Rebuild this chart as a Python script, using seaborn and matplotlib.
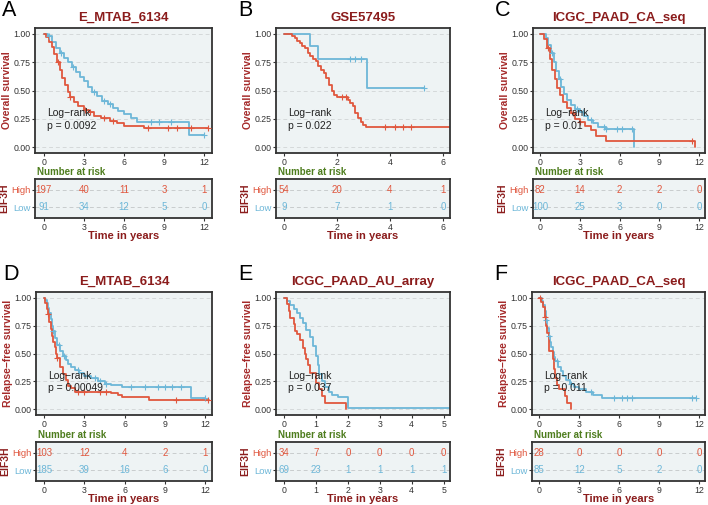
import numpy as np
import pandas as pd
import matplotlib
matplotlib.use("Agg")
import matplotlib.pyplot as plt
import seaborn as sns

sns.set_theme(style="ticks")
plt.rcParams['font.family'] = ['Liberation Sans', 'DejaVu Sans']

HIGH_COL = '#E0573E'
LOW_COL = '#6DB7D8'
DARK_RED = '#8B1C1C'
GREEN = '#4E7D1E'
PANEL_BG = '#EEF3F4'

# ---- Panel A: E_MTAB_6134, overall survival
a_high_t = [0, 0.2, 0.4, 0.6, 0.8, 1.0, 1.2, 1.4, 1.6, 1.8, 2.0, 2.3, 2.6, 3.0, 3.4, 3.8, 4.3, 5.0, 5.5, 6.0, 7.5, 12.3]
a_high_s = [1.0, 0.97, 0.93, 0.88, 0.82, 0.75, 0.68, 0.61, 0.55, 0.49, 0.44, 0.40, 0.36, 0.33, 0.31, 0.28, 0.26, 0.23, 0.21, 0.19, 0.17, 0.17]
a_low_t = [0, 0.3, 0.6, 0.9, 1.2, 1.5, 1.8, 2.1, 2.4, 2.7, 3.0, 3.3, 3.6, 4.0, 4.4, 4.8, 5.2, 5.6, 6.0, 6.5, 7.0, 10.9, 12.0]
a_low_s = [1.0, 0.98, 0.93, 0.87, 0.83, 0.79, 0.75, 0.71, 0.66, 0.62, 0.58, 0.53, 0.49, 0.45, 0.41, 0.38, 0.35, 0.32, 0.29, 0.26, 0.22, 0.11, 0.11]
a_high_cens = [1.1, 2.0, 3.1, 3.5, 4.5, 5.2, 7.8, 9.3, 10.0, 11.0, 12.3]
a_low_cens = [0.4, 1.3, 2.2, 3.8, 4.5, 5.0, 8.0, 8.6, 9.5, 12.0]
a_risk_t = [0, 3, 6, 9, 12]
a_risk_high = [197, 40, 11, 3, 1]
a_risk_low = [91, 34, 12, 5, 0]

# ---- Panel B: GSE57495, overall survival
b_high_t = [0, 0.3, 0.4, 0.5, 0.6, 0.7, 0.8, 0.9, 1.0, 1.1, 1.2, 1.3, 1.4, 1.5, 1.6, 1.7, 1.8, 1.9, 2.0, 2.4, 2.5, 2.6, 2.7, 2.8, 2.9, 3.0, 3.1, 6.3]
b_high_s = [1.0, 0.98, 0.96, 0.94, 0.92, 0.89, 0.87, 0.83, 0.80, 0.78, 0.76, 0.72, 0.68, 0.65, 0.61, 0.55, 0.50, 0.46, 0.44, 0.42, 0.39, 0.36, 0.30, 0.26, 0.22, 0.20, 0.18, 0.18]
b_low_t = [0, 1.0, 1.3, 3.15, 5.3]
b_low_s = [1.0, 0.89, 0.78, 0.52, 0.52]
b_high_cens = [2.2, 2.35, 3.8, 4.2, 4.5, 4.8]
b_low_cens = [2.5, 2.7, 2.9, 5.3]
b_risk_t = [0, 2, 4, 6]
b_risk_high = [54, 20, 4, 1]
b_risk_low = [9, 7, 1, 0]

# ---- Panel C: ICGC_PAAD_CA_seq, overall survival
c_high_t = [0, 0.3, 0.5, 0.7, 0.9, 1.1, 1.3, 1.5, 1.7, 2.0, 2.3, 2.6, 3.0, 3.4, 3.8, 4.2, 5.0, 11.7]
c_high_s = [1.0, 0.95, 0.87, 0.78, 0.68, 0.60, 0.52, 0.46, 0.40, 0.35, 0.30, 0.25, 0.22, 0.19, 0.15, 0.10, 0.06, 0.0]
c_low_t = [0, 0.4, 0.6, 0.8, 1.0, 1.2, 1.4, 1.6, 1.8, 2.0, 2.3, 2.6, 3.0, 3.3, 3.6, 4.0, 4.4, 5.0, 7.05]
c_low_s = [1.0, 0.96, 0.90, 0.83, 0.75, 0.67, 0.60, 0.53, 0.47, 0.42, 0.37, 0.34, 0.31, 0.28, 0.24, 0.21, 0.18, 0.16, 0.0]
c_high_cens = [0.6, 2.5, 3.0, 11.5]
c_low_cens = [0.9, 1.5, 2.8, 3.2, 3.8, 4.8, 5.0, 5.8, 6.2, 6.9]
c_risk_t = [0, 3, 6, 9, 12]
c_risk_high = [82, 14, 2, 2, 0]
c_risk_low = [100, 25, 3, 0, 0]

# ---- Panel D: E_MTAB_6134, relapse-free survival
d_high_t = [0, 0.1, 0.2, 0.3, 0.4, 0.5, 0.6, 0.7, 0.8, 0.9, 1.0, 1.2, 1.4, 1.6, 1.8, 2.0, 2.3, 5.0, 5.5, 5.8, 7.8, 12.3]
d_high_s = [1.0, 0.95, 0.90, 0.85, 0.78, 0.72, 0.66, 0.60, 0.56, 0.50, 0.46, 0.38, 0.32, 0.26, 0.21, 0.19, 0.16, 0.15, 0.13, 0.11, 0.08, 0.08]
d_low_t = [0, 0.1, 0.2, 0.3, 0.4, 0.5, 0.6, 0.7, 0.8, 1.0, 1.2, 1.4, 1.6, 1.8, 2.0, 2.3, 2.6, 3.0, 3.5, 4.0, 4.5, 5.0, 5.8, 10.9, 12.0]
d_low_s = [1.0, 0.98, 0.95, 0.91, 0.86, 0.81, 0.75, 0.70, 0.64, 0.58, 0.52, 0.48, 0.44, 0.41, 0.38, 0.35, 0.33, 0.30, 0.28, 0.25, 0.23, 0.22, 0.20, 0.10, 0.10]
d_high_cens = [0.3, 1.0, 2.5, 3.0, 4.2, 4.6, 9.8, 12.2]
d_low_cens = [0.7, 1.1, 1.5, 2.5, 3.2, 3.8, 4.2, 4.6, 6.5, 7.5, 8.5, 9.0, 9.5, 10.2, 12.0]
d_risk_t = [0, 3, 6, 9, 12]
d_risk_high = [103, 12, 4, 2, 1]
d_risk_low = [185, 39, 16, 6, 0]

# ---- Panel E: ICGC_PAAD_AU_array, relapse-free survival
e_high_t = [0, 0.1, 0.15, 0.2, 0.3, 0.35, 0.4, 0.5, 0.6, 0.65, 0.7, 0.75, 0.8, 1.0, 1.1, 1.2, 1.3, 1.93]
e_high_s = [1.0, 0.94, 0.88, 0.82, 0.76, 0.70, 0.67, 0.62, 0.55, 0.50, 0.45, 0.40, 0.33, 0.24, 0.18, 0.12, 0.06, 0.0]
e_low_t = [0, 0.1, 0.2, 0.3, 0.4, 0.5, 0.6, 0.7, 0.8, 0.9, 1.0, 1.05, 1.1, 1.2, 1.3, 1.4, 1.5, 1.7, 2.0, 5.2]
e_low_s = [1.0, 0.97, 0.93, 0.90, 0.86, 0.82, 0.77, 0.71, 0.65, 0.57, 0.48, 0.40, 0.32, 0.25, 0.20, 0.16, 0.13, 0.11, 0.015, 0.015]
e_high_cens = []
e_low_cens = []
e_risk_t = [0, 1, 2, 3, 4, 5]
e_risk_high = [34, 7, 0, 0, 0, 0]
e_risk_low = [69, 23, 1, 1, 1, 1]

# ---- Panel F: ICGC_PAAD_CA_seq, relapse-free survival
f_high_t = [0, 0.1, 0.3, 0.4, 0.5, 0.6, 0.75, 1.0, 1.1, 1.2, 1.35, 1.5, 1.9, 2.1, 2.35]
f_high_s = [1.0, 0.96, 0.92, 0.83, 0.75, 0.68, 0.52, 0.45, 0.36, 0.28, 0.22, 0.18, 0.12, 0.06, 0.0]
f_low_t = [0, 0.2, 0.3, 0.4, 0.5, 0.6, 0.7, 0.8, 0.9, 1.0, 1.1, 1.2, 1.4, 1.6, 1.8, 2.0, 2.3, 2.6, 3.0, 3.5, 4.0, 4.7, 11.8]
f_low_s = [1.0, 0.97, 0.93, 0.88, 0.80, 0.73, 0.66, 0.60, 0.56, 0.51, 0.47, 0.43, 0.38, 0.34, 0.30, 0.26, 0.23, 0.20, 0.18, 0.16, 0.13, 0.10, 0.10]
f_high_cens = [0.05, 0.4]
f_low_cens = [0.5, 0.7, 1.3, 2.4, 3.9, 5.6, 6.2, 6.6, 7.0, 11.5, 11.8]
f_risk_t = [0, 3, 6, 9, 12]
f_risk_high = [28, 0, 0, 0, 0]
f_risk_low = [85, 12, 5, 2, 0]

panels = [
    dict(letter='A', title='E_MTAB_6134', ylab='Overall survival', p='0.0092',
         ht=a_high_t, hs=a_high_s, lt=a_low_t, ls=a_low_s, hc=a_high_cens, lc=a_low_cens,
         rt=a_risk_t, rh=a_risk_high, rl=a_risk_low, xlim=(-0.65, 12.6),
         px=(35, 212), row=0),
    dict(letter='B', title='GSE57495', ylab='Overall survival', p='0.022',
         ht=b_high_t, hs=b_high_s, lt=b_low_t, ls=b_low_s, hc=b_high_cens, lc=b_low_cens,
         rt=b_risk_t, rh=b_risk_high, rl=b_risk_low, xlim=(-0.3, 6.27),
         px=(276, 450), row=0),
    dict(letter='C', title='ICGC_PAAD_CA_seq', ylab='Overall survival', p='0.01',
         ht=c_high_t, hs=c_high_s, lt=c_low_t, ls=c_low_s, hc=c_high_cens, lc=c_low_cens,
         rt=c_risk_t, rh=c_risk_high, rl=c_risk_low, xlim=(-0.55, 12.45),
         px=(533, 705), row=0),
    dict(letter='D', title='E_MTAB_6134', ylab='Relapse\u2212free survival', p='0.00049',
         ht=d_high_t, hs=d_high_s, lt=d_low_t, ls=d_low_s, hc=d_high_cens, lc=d_low_cens,
         rt=d_risk_t, rh=d_risk_high, rl=d_risk_low, xlim=(-0.6, 12.5),
         px=(36, 212), row=1),
    dict(letter='E', title='ICGC_PAAD_AU_array', ylab='Relapse\u2212free survival', p='0.037',
         ht=e_high_t, hs=e_high_s, lt=e_low_t, ls=e_low_s, hc=e_high_cens, lc=e_low_cens,
         rt=e_risk_t, rh=e_risk_high, rl=e_risk_low, xlim=(-0.25, 5.2),
         px=(276, 450), row=1),
    dict(letter='F', title='ICGC_PAAD_CA_seq', ylab='Relapse\u2212free survival', p='0.011',
         ht=f_high_t, hs=f_high_s, lt=f_low_t, ls=f_low_s, hc=f_high_cens, lc=f_low_cens,
         rt=f_risk_t, rh=f_risk_high, rl=f_risk_low, xlim=(-0.55, 12.45),
         px=(532, 705), row=1),
]

W, H = 708, 505
# pixel rows: (main top, main bottom, risk top, risk bottom)
rows = [(28, 153, 179, 218), (292, 415, 442, 481)]

fig = plt.figure(figsize=(W / 100, H / 100), dpi=100)


def rect(x0, x1, top, bottom):
    return [x0 / W, (H - bottom) / H, (x1 - x0) / W, (bottom - top) / H]


def surv_at(t, s, c):
    idx = np.searchsorted(t, c, side='right') - 1
    return np.asarray(s)[idx]


def style_box(ax):
    ax.set_facecolor(PANEL_BG)
    for sp in ax.spines.values():
        sp.set_visible(True)
        sp.set_color('#333333')
        sp.set_linewidth(1.3)
    ax.tick_params(axis='both', labelsize=6.3, colors='#333333', length=2.5, width=0.8, pad=1)
    ax.tick_params(axis='both', labelcolor='#333333')


for pnl in panels:
    mt, mb, rtop, rbot = rows[pnl['row']]
    x0, x1 = pnl['px']
    ax = fig.add_axes(rect(x0, x1, mt, mb))
    style_box(ax)

    for t, s, c, col in [(pnl['lt'], pnl['ls'], pnl['lc'], LOW_COL),
                         (pnl['ht'], pnl['hs'], pnl['hc'], HIGH_COL)]:
        df = pd.DataFrame({'time': t, 'surv': s})
        sns.lineplot(data=df, x='time', y='surv', ax=ax, color=col, lw=1.3,
                     drawstyle='steps-post', estimator=None, sort=False)
        if len(c):
            ax.scatter(c, surv_at(t, s, c), marker='+', color=col, s=14, lw=0.8, zorder=3)

    xl0, xl1 = pnl['xlim']
    ax.set_xlim(xl0, xl1)
    ax.set_ylim(-0.05, 1.05)
    ax.set_xticks(pnl['rt'])
    ax.set_yticks([0, 0.25, 0.5, 0.75, 1.0])
    ax.set_yticklabels(['0.00', '0.25', '0.50', '0.75', '1.00'])
    ax.yaxis.grid(True, ls=(0, (4, 3)), color='#D5D9DA', lw=0.7)
    ax.xaxis.grid(False)
    ax.set_axisbelow(True)
    ax.set_xlabel('')
    ax.set_ylabel(pnl['ylab'], fontsize=7.5, fontweight='bold', color='#A52A2A', labelpad=1)
    ax.set_title(pnl['title'], fontsize=9.5, fontweight='bold', color=DARK_RED, pad=5)
    ax.text(xl0 + 0.07 * (xl1 - xl0), 0.345, 'Log\u2212rank\np = ' + pnl['p'],
            fontsize=7.5, color='#222222', va='top', ha='left', linespacing=1.3)

    # panel letter
    fig.text((x0 - 33 if pnl['letter'] in 'AD' else x0 - 38) / W,
             1 - (mt - 17) / H, pnl['letter'], fontsize=15.5, color='black',
             va='center', ha='left')

    # "Number at risk" label
    fig.text(x0 / W + 0.003, 1 - (rtop - 7) / H, 'Number at risk', fontsize=7,
             fontweight='bold', color=GREEN, va='center', ha='left')

    # risk table
    rax = fig.add_axes(rect(x0, x1, rtop, rbot))
    style_box(rax)
    rax.set_xlim(xl0, xl1)
    rax.set_ylim(0.4, 2.6)
    rax.set_xticks(pnl['rt'])
    rax.set_yticks([2, 1])
    rax.set_yticklabels(['High', 'Low'], fontsize=6.8)
    rax.get_yticklabels()[0].set_color(HIGH_COL)
    rax.get_yticklabels()[1].set_color(LOW_COL)
    rax.yaxis.grid(True, ls=(0, (4, 3)), color='#C8CCCD', lw=0.7)
    rax.xaxis.grid(False)
    rax.set_axisbelow(True)
    for xt, nh, nl in zip(pnl['rt'], pnl['rh'], pnl['rl']):
        rax.text(xt, 2, str(nh), color=HIGH_COL, fontsize=7, ha='center', va='center')
        rax.text(xt, 1, str(nl), color=LOW_COL, fontsize=7, ha='center', va='center')
    rax.set_ylabel('EIF3H', fontsize=7.5, fontweight='bold', color=DARK_RED, labelpad=1)
    rax.set_xlabel('Time in years', fontsize=8, fontweight='bold', color=DARK_RED, labelpad=-0.5)

fig.savefig('out.png', dpi=100)
